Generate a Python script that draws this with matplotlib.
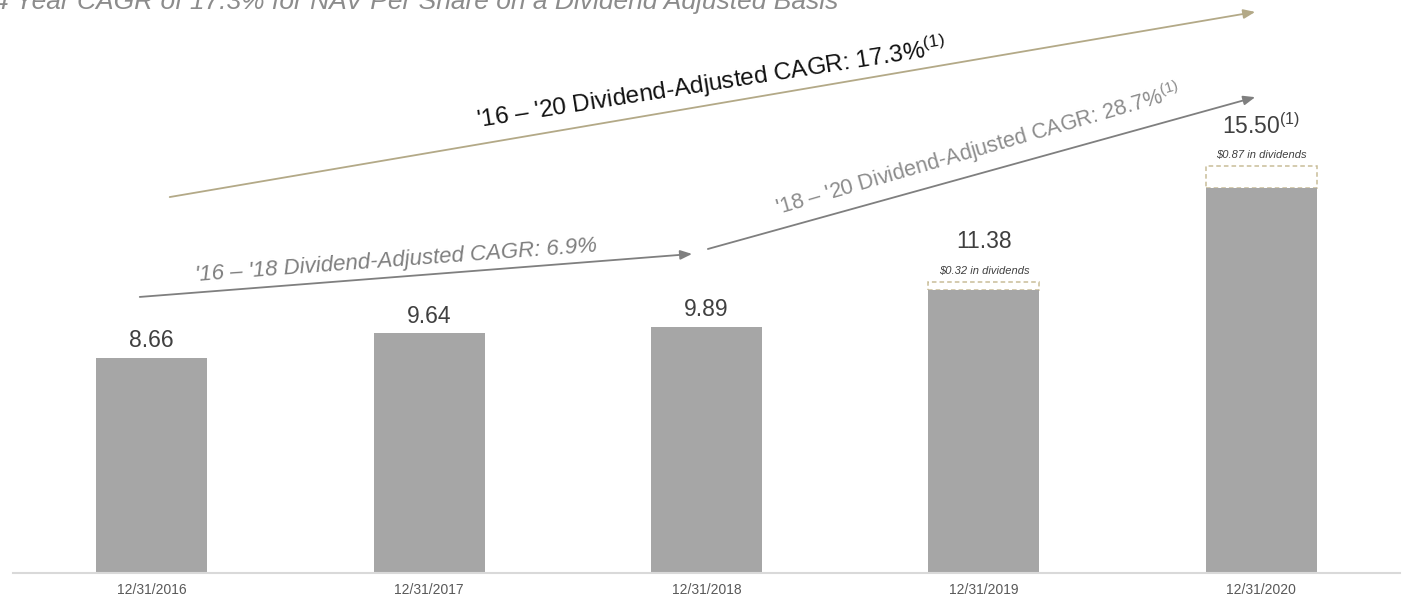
import matplotlib

matplotlib.use("Agg")
import matplotlib.pyplot as plt
import numpy as np

plt.rcParams["font.family"] = ["Liberation Sans", "DejaVu Sans"]
plt.rcParams["mathtext.fontset"] = "custom"
plt.rcParams["mathtext.rm"] = "Liberation Sans"
plt.rcParams["mathtext.it"] = "Liberation Sans:italic"

dates = ["12/31/2016", "12/31/2017", "12/31/2018", "12/31/2019", "12/31/2020"]
nav = [8.66, 9.64, 9.89, 11.38, 15.50]
dividends = [0.0, 0.0, 0.0, 0.32, 0.87]
value_labels = ["8.66", "9.64", "9.89", "11.38", "15.50$^{(1)}$"]
dividend_labels = ["", "", "", "\\$0.32 in dividends", "\\$0.87 in dividends"]

title = "4 Year CAGR of 17.3% for NAV Per Share on a Dividend Adjusted Basis"
cagr_all = "'16 \u2013 '20 Dividend-Adjusted CAGR: 17.3%$^{(1)}$"
cagr_early = "'16 \u2013 '18 Dividend-Adjusted CAGR: 6.9%"
cagr_late = "'18 \u2013 '20 Dividend-Adjusted CAGR: 28.7%$^{(1)}$"

BAR = "#a6a6a6"
GOLD = "#b3a987"
GREY = "#7f7f7f"
TEXT = "#404040"

fig = plt.figure(figsize=(14.04, 6.04), dpi=100)
ax = fig.add_axes([13 / 1404, 31 / 604, 1387 / 1404, 573 / 604])

x = np.arange(len(nav))
width = 0.4
ax.bar(x, nav, width=width, color=BAR, zorder=2)

for xi, v, d, lab, dlab in zip(x, nav, dividends, value_labels, dividend_labels):
    if d > 0:
        ax.bar(xi, d, bottom=v, width=width, facecolor="white",
               edgecolor="#c9bd98", linestyle=(0, (3, 2)), linewidth=1.1, zorder=1)
        ax.annotate(dlab, (xi, v + d), xytext=(0, 8), textcoords="offset points",
                    ha="center", va="center", fontsize=8, style="italic", color=TEXT)
        ax.annotate(lab, (xi, v + d), xytext=(0, 29), textcoords="offset points",
                    ha="center", va="center", fontsize=16.5, color=TEXT)
    else:
        ax.annotate(lab, (xi, v), xytext=(0, 12.5), textcoords="offset points",
                    ha="center", va="center", fontsize=16.5, color=TEXT)

ax.set_xlim(-0.5, 4.5)
ax.set_ylim(0, 23.06)
ax.set_xticks(x)
ax.set_xticklabels(dates, fontsize=10, color="#595959")
ax.tick_params(axis="x", length=0, pad=7)
ax.set_yticks([])
for s in ["top", "left", "right"]:
    ax.spines[s].set_visible(False)
ax.spines["bottom"].set_color("#d9d9d9")
ax.spines["bottom"].set_linewidth(1.5)


# CAGR arrows
def arrow(start, end, color):
    ax.annotate("", xy=end, xytext=start, annotation_clip=False,
                arrowprops=dict(arrowstyle="-|>,head_length=0.7,head_width=0.28",
                                color=color, lw=1.3, shrinkA=0, shrinkB=0))


arrow((0.065, 15.13), (3.978, 22.58), GOLD)
arrow((-0.043, 11.11), (1.948, 12.84), GREY)
arrow((2.005, 13.04), (3.978, 19.15), GREY)

ax.text(2.02, 19.38, cagr_all, fontsize=17.5, color="#111111", rotation=8.9,
        ha="center", va="baseline", rotation_mode="anchor")
ax.text(0.884, 12.35, cagr_early, fontsize=16, color=GREY, style="italic",
        rotation=4.2, ha="center", va="baseline", rotation_mode="anchor")
ax.text(2.986, 16.75, cagr_late, fontsize=15.5, color="#8c8c8c", rotation=16.2,
        ha="center", va="baseline", rotation_mode="anchor")

fig.text(-0.004, 1 - 9 / 604, title, fontsize=19, style="italic",
         color="#8c8c8c", ha="left", va="baseline")

fig.savefig("out.png", dpi=100)
